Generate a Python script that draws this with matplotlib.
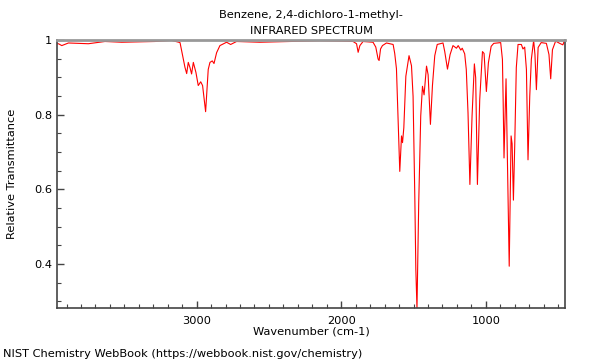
import matplotlib

matplotlib.use("Agg")
import matplotlib.pyplot as plt
from matplotlib.ticker import MultipleLocator, FuncFormatter

# Спектр (волновое число, пропускание)
wavenumber = [
    3965, 3956, 3933, 3887, 3749, 3634, 3518, 3288, 3173, 3115,
    3081, 3069, 3058, 3046, 3035, 3023, 3005, 2989, 2972, 2959,
    2938, 2920, 2908, 2892, 2880, 2862, 2839, 2793, 2765, 2724,
    2563, 2355, 2148, 2010, 1918, 1894, 1883, 1871, 1849, 1780,
    1761, 1745, 1738, 1728, 1715, 1687, 1664, 1641, 1630, 1618,
    1607, 1595, 1583, 1576, 1567, 1553, 1531, 1514, 1503, 1491,
    1484, 1476, 1464, 1450, 1438, 1427, 1410, 1399, 1383, 1369,
    1353, 1336, 1307, 1296, 1284, 1265, 1247, 1227, 1203, 1191,
    1173, 1163, 1146, 1135, 1123, 1110, 1095, 1079, 1070, 1058,
    1042, 1023, 1012, 996, 982, 963, 945, 897, 885, 880,
    874, 860, 838, 825, 818, 809, 800, 789, 777, 754,
    743, 731, 719, 708, 696, 685, 669, 660, 650, 638,
    617, 581, 563, 551, 539, 517, 489, 467, 455,
]
transmittance = [
    0.990, 0.990, 0.985, 0.992, 0.990, 0.996, 0.994, 0.996, 0.999, 0.993,
    0.927, 0.910, 0.940, 0.926, 0.909, 0.940, 0.913, 0.878, 0.888, 0.878,
    0.808, 0.921, 0.940, 0.944, 0.937, 0.966, 0.985, 0.994, 0.988, 0.996,
    0.994, 0.996, 0.998, 0.997, 0.996, 0.990, 0.967, 0.985, 0.996, 0.994,
    0.981, 0.949, 0.945, 0.976, 0.985, 0.992, 0.990, 0.988, 0.964, 0.923,
    0.789, 0.648, 0.743, 0.725, 0.765, 0.903, 0.958, 0.931, 0.849, 0.580,
    0.386, 0.281, 0.563, 0.797, 0.876, 0.853, 0.930, 0.907, 0.774, 0.878,
    0.958, 0.988, 0.991, 0.992, 0.969, 0.922, 0.961, 0.985, 0.978, 0.985,
    0.973, 0.978, 0.963, 0.921, 0.805, 0.613, 0.797, 0.936, 0.899, 0.613,
    0.840, 0.969, 0.964, 0.862, 0.939, 0.983, 0.991, 0.993, 0.948, 0.840,
    0.684, 0.896, 0.394, 0.743, 0.722, 0.571, 0.716, 0.926, 0.988, 0.988,
    0.976, 0.981, 0.921, 0.679, 0.849, 0.948, 0.999, 0.961, 0.867, 0.980,
    0.993, 0.991, 0.961, 0.896, 0.974, 0.997, 0.991, 0.987, 0.999,
]

title = "Benzene, 2,4-dichloro-1-methyl-\nINFRARED SPECTRUM"
footer = "NIST Chemistry WebBook (https://webbook.nist.gov/chemistry)"
fs = 8.2

fig = plt.figure(figsize=(6, 3.6), dpi=100)
ax = fig.add_axes([0.095, 0.1444, 0.8467, 0.7445])

ax.plot(wavenumber, transmittance, color="red", linewidth=0.8)

ax.set_xlim(3966, 452)
ax.set_ylim(0.282, 1.0)

ax.xaxis.set_major_locator(MultipleLocator(1000))
ax.xaxis.set_minor_locator(MultipleLocator(100))
ax.yaxis.set_major_locator(MultipleLocator(0.2))
ax.yaxis.set_minor_locator(MultipleLocator(0.05))
ax.yaxis.set_major_formatter(FuncFormatter(lambda v, p: "%g" % round(v, 2)))

ax.tick_params(which="both", direction="in", labelsize=fs, color="#444444")
ax.tick_params(which="major", length=5, width=1)
ax.tick_params(which="minor", length=3, width=0.8)
ax.tick_params(axis="x", pad=6)

for side in ["left", "bottom", "right"]:
    ax.spines[side].set_color("#444444")
    ax.spines[side].set_linewidth(1.2)
ax.spines["top"].set_color("#999999")
ax.spines["top"].set_linewidth(2)

ax.set_xlabel("Wavenumber (cm-1)", fontsize=fs, labelpad=0)
ax.set_ylabel("Relative Transmittance", fontsize=fs, labelpad=12)
ax.set_title(title, fontsize=fs, linespacing=1.75, pad=4)

fig.text(0.005, 0.003, footer, fontsize=fs, ha="left", va="bottom")

fig.savefig("out.png", dpi=100)
